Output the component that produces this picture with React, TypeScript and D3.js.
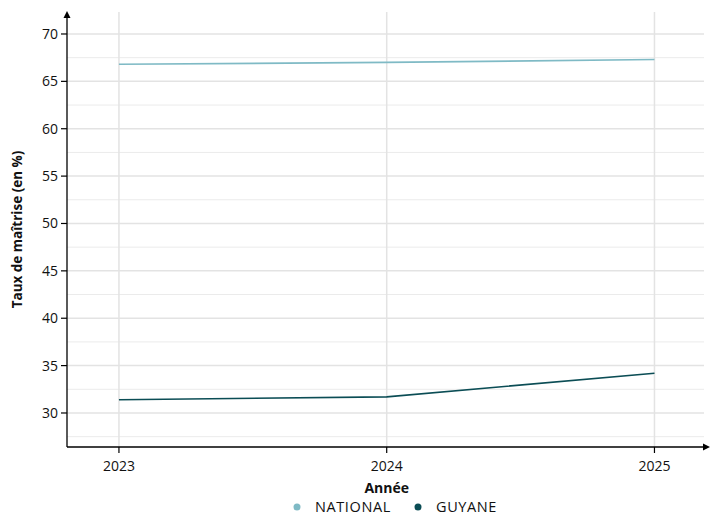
import React from "react";
import * as d3 from "d3";

const years = [2023, 2024, 2025];
const nationalValues = [66.8, 67.0, 67.3];
const guyaneValues = [31.4, 31.7, 34.2];
const seriesNames = ["NATIONAL", "GUYANE"];
const seriesColors = ["#7fbac5", "#0b4d55"];
const yTicks = [30, 35, 40, 45, 50, 55, 60, 65, 70];
const yMinorTicks = [27.5, 32.5, 37.5, 42.5, 47.5, 52.5, 57.5, 62.5, 67.5];

export default function App() {
  const W = 724, H = 515;
  const left = 67, right = 704, top = 12, bottom = 447;
  const x = d3.scaleLinear().domain([2022.806, 2025.185]).range([left, right]);
  const y = d3.scaleLinear().domain([26.41, 72.32]).range([bottom, top]);
  const line = d3.line<[number, number]>().x(d => x(d[0])).y(d => y(d[1]));
  const series = [nationalValues, guyaneValues];
  const font = "'Open Sans', Lato, sans-serif";
  return (
    <svg width={W} height={H} style={{ position: "absolute", left: 0, top: 0 }} fontFamily={font}>
      <rect width={W} height={H} fill="#fff" />
      {yMinorTicks.map(t => (
        <line key={"m" + t} x1={left} x2={right} y1={y(t)} y2={y(t)} stroke="#ebebeb" strokeWidth={1} />
      ))}
      {yTicks.map(t => (
        <line key={"g" + t} x1={left} x2={right} y1={y(t)} y2={y(t)} stroke="#e3e3e3" strokeWidth={1.5} />
      ))}
      {years.map(t => (
        <line key={"v" + t} x1={x(t)} x2={x(t)} y1={top} y2={bottom} stroke="#e3e3e3" strokeWidth={1.5} />
      ))}
      {series.map((vals, i) => (
        <path key={i} d={line(years.map((yr, j) => [yr, vals[j]]) as [number, number][]) || ""}
          fill="none" stroke={seriesColors[i]} strokeWidth={1.6} />
      ))}
      {/* axes */}
      <line x1={left} x2={left} y1={bottom} y2={top + 4} stroke="#000" strokeWidth={1.3} />
      <path d={`M${left - 3.5},${top + 6} L${left},${top - 1} L${left + 3.5},${top + 6} Z`} fill="#000" />
      <line x1={left} x2={right} y1={bottom} y2={bottom} stroke="#000" strokeWidth={1.3} />
      <path d={`M${right - 1},${bottom - 3.5} L${right + 6},${bottom} L${right - 1},${bottom + 3.5} Z`} fill="#000" />
      {yTicks.map(t => (
        <g key={"yt" + t}>
          <line x1={left - 6} x2={left} y1={y(t)} y2={y(t)} stroke="#000" strokeWidth={1.2} />
          <text x={left - 9} y={y(t)} dy="0.35em" textAnchor="end" fontSize={14} fill="#111">{t}</text>
        </g>
      ))}
      {years.map(t => (
        <g key={"xt" + t}>
          <line x1={x(t)} x2={x(t)} y1={bottom} y2={bottom + 6} stroke="#000" strokeWidth={1.2} />
          <text x={x(t)} y={bottom + 24} textAnchor="middle" fontSize={14} fill="#111">{t}</text>
        </g>
      ))}
      <text transform={`translate(22,${(top + bottom) / 2}) rotate(-90)`} textAnchor="middle" fontSize={13.5} fontWeight="bold" fill="#111">Taux de maîtrise (en %)</text>
      <text x={x(2024)} y={493} textAnchor="middle" fontSize={14} fontWeight="bold" fill="#111">Année</text>
      <g>
        <circle cx={297} cy={507} r={3.5} fill={seriesColors[0]} />
        <text x={315} y={507} dy="0.35em" fontSize={14.5} letterSpacing={0.6} fill="#111">{seriesNames[0]}</text>
        <circle cx={418} cy={507} r={3.5} fill={seriesColors[1]} />
        <text x={436} y={507} dy="0.35em" fontSize={14.5} letterSpacing={0.6} fill="#111">{seriesNames[1]}</text>
      </g>
    </svg>
  );
}
